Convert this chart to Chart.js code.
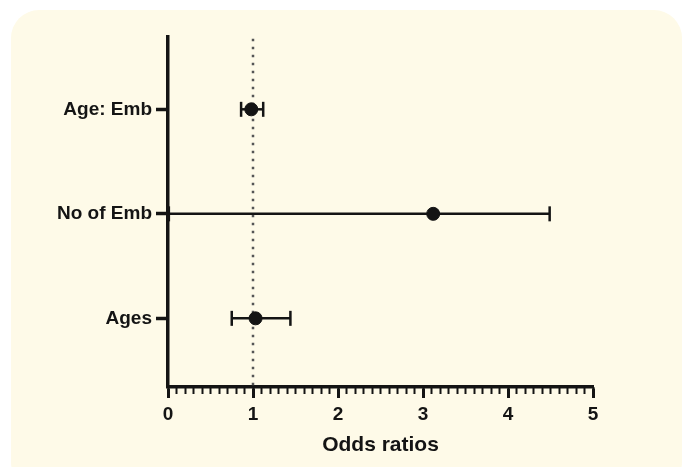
<!DOCTYPE html>
<html>
<head>
<meta charset="utf-8">
<script src="https://cdn.jsdelivr.net/npm/chart.js@4"></script>
<style>
html, body { margin: 0; padding: 0; background: #ffffff; }
#wrap { position: relative; width: 683px; height: 467px; overflow: hidden; }
#panel { position: absolute; left: 11px; top: 10px; width: 671px; height: 480px; background: #fefae8; border-radius: 28px; }
canvas { position: absolute; left: 0; top: 0; }
</style>
</head>
<body>
<div id="wrap">
  <div id="panel"></div>
  <canvas id="forestChart" width="683" height="467"></canvas>
</div>
<script>
// Datos del gráfico (de abajo hacia arriba)
const categories = ['Ages', 'No of Emb', 'Age: Emb'];
const catPositions = [1, 2, 3];
const oddsRatios = [1.03, 3.12, 0.98];
const lowerCI = [0.75, 0.01, 0.86];
const upperCI = [1.44, 4.49, 1.12];
const xTickLabels = [0, 1, 2, 3, 4, 5];
const refValue = 1;
const refSpan = [0.36, 3.69];

const ink = '#141414';
const fontFamily = "'Liberation Sans', Arial, sans-serif";

// Barras de error: un dataset por categoría
const errorSets = categories.map((c, i) => ({
    type: 'line',
    label: c + ' IC',
    data: [{ x: lowerCI[i], y: catPositions[i] }, { x: upperCI[i], y: catPositions[i] }],
    borderColor: ink,
    borderWidth: 2.5,
    pointStyle: 'line',
    rotation: 90,
    pointRadius: 7.5,
    pointBorderWidth: 2.5,
    pointBorderColor: ink,
    order: 1
}));

// Línea de referencia punteada en OR = 1
const refLine = {
    type: 'line',
    label: 'ref',
    data: refSpan.map(y => ({ x: refValue, y: y })),
    borderColor: '#555555',
    borderWidth: 2.5,
    borderDash: [2.5, 5.5],
    pointRadius: 0,
    order: 2
};

// Puntos de odds ratio
const pointSet = {
    type: 'scatter',
    label: 'OR',
    data: categories.map((c, i) => ({ x: oddsRatios[i], y: catPositions[i] })),
    backgroundColor: ink,
    borderColor: ink,
    pointRadius: 6.5,
    order: 0
};

new Chart(document.getElementById('forestChart'), {
    type: 'scatter',
    data: { datasets: [pointSet, ...errorSets, refLine] },
    options: {
        responsive: false,
        animation: false,
        events: [],
        layout: { padding: { top: 37, right: 90, left: 0, bottom: 0 } },
        plugins: { legend: { display: false }, tooltip: { enabled: false } },
        scales: {
            x: {
                type: 'linear', position: 'bottom', min: 0, max: 5, weight: 1,
                afterBuildTicks: s => { s.ticks = xTickLabels.map(v => ({ value: v })); },
                afterFit: s => { s.height = 80; },
                ticks: { color: ink, padding: 5, font: { family: fontFamily, size: 19, weight: 'bold' }, callback: v => String(v) },
                grid: { drawOnChartArea: false, tickLength: 11, tickWidth: 3, tickColor: ink },
                border: { display: true, color: ink, width: 3.5 },
                title: { display: true, text: 'Odds ratios', color: ink, font: { family: fontFamily, size: 21, weight: 'bold' }, padding: { top: 0, bottom: 9 } }
            },
            xMinor: {
                type: 'linear', position: 'bottom', min: 0, max: 5, weight: 0,
                afterBuildTicks: s => {
                    const t = [];
                    for (let k = 0; k <= 50; k++) t.push({ value: k / 10 });
                    s.ticks = t;
                },
                afterFit: s => { s.height = 0; },
                ticks: { display: false },
                grid: { drawOnChartArea: false, tickLength: 7, tickWidth: 2, tickColor: ink },
                border: { display: false }
            },
            y: {
                type: 'linear', position: 'left', min: 0.343, max: 3.692,
                afterBuildTicks: s => { s.ticks = catPositions.map(v => ({ value: v })); },
                afterFit: s => { s.width = 168; },
                ticks: { color: ink, padding: 4, font: { family: fontFamily, size: 19, weight: 'bold' }, callback: v => categories[catPositions.indexOf(v)] },
                grid: { drawOnChartArea: false, tickLength: 12, tickWidth: 3.5, tickColor: ink },
                border: { display: true, color: ink, width: 3.5 }
            }
        }
    }
});
</script>
</body>
</html>
